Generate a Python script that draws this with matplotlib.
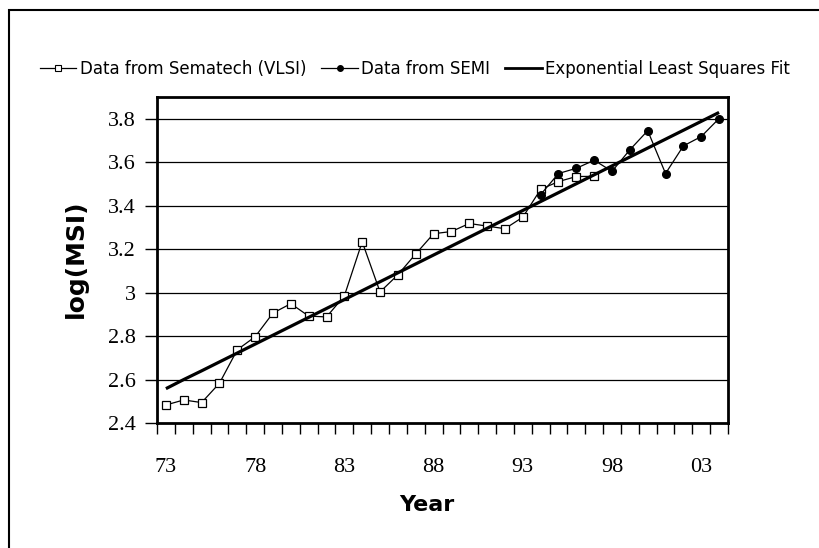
import matplotlib
matplotlib.use('Agg')
import matplotlib.pyplot as plt
from matplotlib.patches import Rectangle
from matplotlib.lines import Line2D

YEARS = ['73', '74', '75', '76', '77', '78', '79', '80', '81', '82', '83', '84', '85', '86', '87', '88',
         '89', '90', '91', '92', '93', '94', '95', '96', '97', '98', '99', '00', '01', '02', '03', '04']

# log(MSI) per year, Sematech covers 73-97, SEMI covers 94-04
SEMATECH = [2.483, 2.506, 2.494, 2.583, 2.737, 2.797, 2.906, 2.949, 2.892, 2.888, 2.985, 3.234, 3.003,
            3.082, 3.178, 3.271, 3.281, 3.318, 3.306, 3.294, 3.347, 3.475, 3.511, 3.534, 3.535]
SEMI = [3.451, 3.548, 3.572, 3.609, 3.558, 3.657, 3.745, 3.548, 3.675, 3.718, 3.801]
FIT = [2.558, 2.600, 2.640, 2.681, 2.722, 2.763, 2.804, 2.845, 2.886, 2.927, 2.968, 3.009, 3.050,
       3.091, 3.132, 3.173, 3.214, 3.255, 3.296, 3.337, 3.378, 3.419, 3.460, 3.501, 3.542, 3.583,
       3.624, 3.665, 3.706, 3.747, 3.788, 3.829]

LABEL_YEARS = ['73', '78', '83', '88', '93', '98', '03']
Y_TICKS = [2.4, 2.6, 2.8, 3.0, 3.2, 3.4, 3.6, 3.8]
Y_TICK_LABELS = ['2.4', '2.6', '2.8', '3', '3.2', '3.4', '3.6', '3.8']

W, H = 819, 548

fig = plt.figure(figsize=(W / 100, H / 100), dpi=100)
ax = fig.add_axes([157 / W, 125 / H, 571 / W, 326 / H])

x_all = list(range(len(YEARS)))
x_sema = x_all[:len(SEMATECH)]
start = YEARS.index('94')
x_semi = x_all[start:start + len(SEMI)]

for y in Y_TICKS[1:]:
    ax.axhline(y, color='black', lw=0.9, zorder=1)

ax.plot(x_sema, SEMATECH, color='black', lw=0.9, marker='s', markersize=5.5,
        markerfacecolor='white', markeredgecolor='black', markeredgewidth=0.9, zorder=3)
ax.plot(x_semi, SEMI, color='black', lw=0.9, marker='o', markersize=5.5,
        markerfacecolor='black', markeredgecolor='black', zorder=4)
ax.plot(x_all, FIT, color='black', lw=2.3, solid_capstyle='butt', zorder=5)

ax.set_xlim(-0.5, len(YEARS) - 0.5)
ax.set_ylim(2.4, 3.9)

# tick marks sit between categories, labels at every fifth year
ax.set_xticks([i - 0.5 for i in range(len(YEARS) + 1)])
ax.set_xticklabels([])
ax.tick_params(axis='x', which='major', direction='out', length=8, width=1)
ax.set_xticks([YEARS.index(y) for y in LABEL_YEARS], minor=True)
ax.set_xticklabels(LABEL_YEARS, minor=True, family='Liberation Serif', fontsize=16)
ax.tick_params(axis='x', which='minor', length=0, pad=25)

ax.set_yticks(Y_TICKS)
ax.set_yticklabels(Y_TICK_LABELS, family='Liberation Serif', fontsize=16)
ax.tick_params(axis='y', direction='out', length=9, width=1, pad=6)

for side in ['left', 'right', 'top', 'bottom']:
    ax.spines[side].set_linewidth(2)

fig.text(76 / W, 1 - 259 / H, 'log(MSI)', rotation=90, ha='center', va='center',
         fontsize=18, fontweight='bold')
fig.text(427 / W, 1 - 505 / H, 'Year', ha='center', va='center',
         fontsize=16, fontweight='bold')

handles = [
    Line2D([], [], color='black', lw=0.9, marker='s', markersize=4,
           markerfacecolor='white', markeredgecolor='black', markeredgewidth=0.8),
    Line2D([], [], color='black', lw=0.9, marker='o', markersize=4, markerfacecolor='black'),
    Line2D([], [], color='black', lw=2.0),
]
labels = ['Data from Sematech (VLSI)', 'Data from SEMI', 'Exponential Least Squares Fit']
fig.legend(handles, labels, loc='center', bbox_to_anchor=(415 / W, 1 - 69 / H), ncol=3,
           frameon=False, fontsize=12, handlelength=2.2, handletextpad=0.2,
           columnspacing=0.9, borderpad=0)

# outer chart border, open on the right and bottom
fig.patches.append(Rectangle((9 / W, -0.1), 1.2, 1.1 - 10 / H, transform=fig.transFigure,
                             fill=False, edgecolor='black', lw=1.5))

fig.savefig('out.png', dpi=100)
plt.close(fig)
